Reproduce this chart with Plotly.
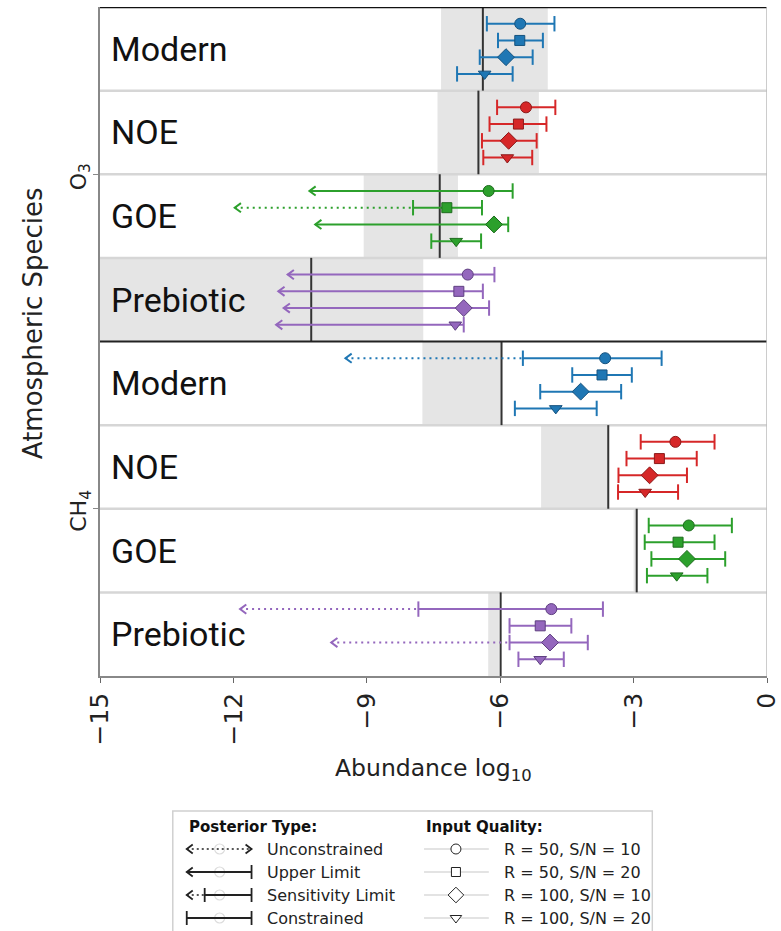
import plotly.graph_objects as go

# ---------------- data ----------------
species = ["O<sub>3</sub>", "CH<sub>4</sub>"]
scenarios = ["Modern", "NOE", "GOE", "Prebiotic"]
scenario_colors = ["#1f77b4", "#d62728", "#2ca02c", "#9467bd"]
scenario_edges = ["#15527e", "#8b1a1a", "#1d6b1d", "#5e3f80"]
qualities = ["R = 50, S/N = 10", "R = 50, S/N = 20", "R = 100, S/N = 10", "R = 100, S/N = 20"]
quality_symbols = ["circle", "square", "diamond", "triangle-down"]
quality_sizes = [11, 10, 13, 11]
posterior_types = ["Unconstrained", "Upper Limit", "Sensitivity Limit", "Constrained"]

# true abundances and shaded ranges (per scenario)
o3_truth = [-6.39, -6.49, -7.36, -10.25]
o3_band_lo = [-7.33, -7.41, -9.07, -15.0]
o3_band_hi = [-4.93, -5.13, -6.95, -7.73]
ch4_truth = [-5.97, -3.57, -2.93, -5.99]
ch4_band_lo = [-7.75, -5.08, -3.00, -6.27]
ch4_band_hi = [-5.97, -3.57, -2.93, -6.03]

# retrievals: rows = scenario, cols = input quality
# type: C = constrained, U = upper limit, S = sensitivity limit
o3_median = [[-5.55, -5.56, -5.87, -6.35],
             [-5.42, -5.59, -5.81, -5.84],
             [-6.26, -7.20, -6.14, -6.99],
             [-6.73, -6.93, -6.82, -7.01]]
o3_low = [[-6.30, -6.05, -6.46, -6.97],
          [-6.07, -6.24, -6.41, -6.38],
          [-10.29, -7.96, -10.16, -7.55],
          [-10.78, -10.99, -10.87, -11.04]]
o3_high = [[-4.78, -5.04, -5.27, -5.72],
           [-4.76, -4.96, -5.18, -5.28],
           [-5.72, -6.41, -5.82, -6.43],
           [-6.13, -6.39, -6.25, -6.82]]
o3_arrow = [[None, None, None, None],
            [None, None, None, None],
            [None, -11.97, None, None],
            [None, None, None, None]]
o3_type = [["C", "C", "C", "C"],
           ["C", "C", "C", "C"],
           ["U", "S", "U", "C"],
           ["U", "U", "U", "U"]]

ch4_median = [[-3.64, -3.71, -4.19, -4.75],
              [-2.06, -2.42, -2.64, -2.74],
              [-1.76, -2.00, -1.80, -2.03],
              [-4.85, -5.10, -4.88, -5.10]]
ch4_low = [[-5.49, -4.38, -5.10, -5.67],
           [-2.84, -3.16, -3.34, -3.35],
           [-2.66, -2.75, -2.60, -2.70],
           [-7.84, -5.79, -5.79, -5.59]]
ch4_high = [[-2.37, -3.04, -3.28, -3.83],
            [-1.18, -1.58, -1.80, -2.00],
            [-0.79, -1.18, -0.94, -1.34],
            [-3.69, -4.40, -4.03, -4.57]]
ch4_arrow = [[-9.48, None, None, None],
             [None, None, None, None],
             [None, None, None, None],
             [-11.85, None, -9.80, None]]
ch4_type = [["S", "C", "C", "C"],
            ["C", "C", "C", "C"],
            ["C", "C", "C", "C"],
            ["S", "C", "S", "C"]]

x_ticks = [-15, -12, -9, -6, -3, 0]
x_ticktext = ["\u221215", "\u221212", "\u22129", "\u22126", "\u22123", "0"]
species_ticks = [2, 6]

# ---------------- figure ----------------
W, H = 781, 931
FONT = "DejaVu Sans"
BAND = "rgb(229,229,229)"
ARROW_DX = 0.14   # chevron length in x units
ARROW_DY = 0.055  # chevron half height in y units
DOTDASH = "2px,4px"
PH = H - 7        # paper height in px


def py(pix):
    return (H - pix) / PH


def px(pix):
    return (pix - 100) / 669


fig = go.Figure()
shapes = []
annotations = []

datasets = [
    (o3_truth, o3_band_lo, o3_band_hi, o3_median, o3_low, o3_high, o3_arrow, o3_type),
    (ch4_truth, ch4_band_lo, ch4_band_hi, ch4_median, ch4_low, ch4_high, ch4_arrow, ch4_type),
]

# bands
for s, d in enumerate(datasets):
    truth, blo, bhi = d[0], d[1], d[2]
    for k in range(4):
        row = s * 4 + k
        shapes.append(dict(type="rect", xref="x", yref="y", x0=blo[k], x1=bhi[k],
                           y0=row, y1=row + 1, fillcolor=BAND, line=dict(width=0),
                           layer="below"))
# separators
for r in range(1, 8):
    if r == 4:
        continue
    shapes.append(dict(type="line", xref="x", yref="y", x0=-15, x1=0, y0=r, y1=r,
                       line=dict(color="#d6d6d6", width=2.5), layer="below"))
# truth lines
for s, d in enumerate(datasets):
    truth = d[0]
    for k in range(4):
        row = s * 4 + k
        shapes.append(dict(type="line", xref="x", yref="y", x0=truth[k], x1=truth[k],
                           y0=row, y1=row + 1, line=dict(color="#333333", width=2),
                           layer="below"))
# species separator, top and right spines
shapes.append(dict(type="line", xref="x", yref="y", x0=-15, x1=0, y0=4, y1=4,
                   line=dict(color="#222222", width=2), layer="above"))
shapes.append(dict(type="line", xref="x", yref="y", x0=-15, x1=0, y0=0, y1=0,
                   line=dict(color="#111111", width=2.5), layer="above"))
shapes.append(dict(type="line", xref="x", yref="y", x0=0, x1=0, y0=0, y1=8,
                   line=dict(color="#bbbbbb", width=1.5), layer="above"))

# error bars / arrows / markers
for s, d in enumerate(datasets):
    _, _, _, med, low, high, arrow, ptype = d
    for k in range(4):
        row = s * 4 + k
        col = scenario_colors[k]
        sx, sy, dx, dy, cx, cy, ax, ay = [], [], [], [], [], [], [], []
        for j in range(4):
            y = row + 0.2 * (j + 1)
            t = ptype[k][j]
            sx += [low[k][j], high[k][j], None]
            sy += [y, y, None]
            cx.append(high[k][j]); cy.append(y)
            if t == "C":
                cx.append(low[k][j]); cy.append(y)
            elif t == "U":
                tip = low[k][j]
                ax += [tip + ARROW_DX, tip, tip + ARROW_DX, None]
                ay += [y - ARROW_DY, y, y + ARROW_DY, None]
            elif t == "S":
                cx.append(low[k][j]); cy.append(y)
                tip = arrow[k][j]
                dx += [tip, low[k][j], None]
                dy += [y, y, None]
                ax += [tip + ARROW_DX, tip, tip + ARROW_DX, None]
                ay += [y - ARROW_DY, y, y + ARROW_DY, None]
        if dx:
            fig.add_trace(go.Scatter(x=dx, y=dy, mode="lines", hoverinfo="skip",
                                     line=dict(color=col, width=2, dash=DOTDASH)))
        fig.add_trace(go.Scatter(x=sx, y=sy, mode="lines", hoverinfo="skip",
                                 line=dict(color=col, width=2)))
        if ax:
            fig.add_trace(go.Scatter(x=ax, y=ay, mode="lines", hoverinfo="skip",
                                     line=dict(color=col, width=2)))
        fig.add_trace(go.Scatter(x=cx, y=cy, mode="markers", hoverinfo="skip",
                                 marker=dict(symbol="line-ns", size=11, color=col,
                                             line=dict(color=col, width=2))))
        fig.add_trace(go.Scatter(
            x=med[k], y=[row + 0.2 * (j + 1) for j in range(4)], mode="markers",
            marker=dict(symbol=quality_symbols, size=quality_sizes, color=col, opacity=1,
                        line=dict(color=scenario_edges[k], width=1))))

# scenario labels
for s in range(2):
    for k, name in enumerate(scenarios):
        annotations.append(dict(x=-14.8, y=s * 4 + k + 0.5, xref="x", yref="y",
                                text=name, showarrow=False, xanchor="left",
                                yanchor="middle",
                                font=dict(family="Roboto", size=34, color="#111111")))

# species labels beside the y ticks
for i, sp in enumerate(species):
    annotations.append(dict(x=-15, y=species_ticks[i] + 0.03, xref="x", yref="y",
                            text=sp, showarrow=False, textangle=-90, xanchor="right",
                            yanchor="middle", xshift=-3,
                            font=dict(family=FONT, size=22, color="#222222")))

# axis titles
annotations.append(dict(x=px(434), y=py(770), xref="paper", yref="paper",
                        text="Abundance log<sub>10</sub>", showarrow=False,
                        xanchor="center", yanchor="middle",
                        font=dict(family=FONT, size=23.5, color="#222222")))
annotations.append(dict(x=px(33), y=py(323), xref="paper", yref="paper",
                        text="Atmospheric Species", showarrow=False, textangle=-90,
                        xanchor="center", yanchor="middle",
                        font=dict(family=FONT, size=26, color="#222222")))

# ---------------- custom legend (pixel-unit helper axes) ----------------
LX0, LX1, LY0, LY1 = 172, 655, 810, 931
shapes.append(dict(type="rect", xref="x2", yref="y2", x0=173, x1=654, y0=811, y1=945,
                   line=dict(color="#d0d0d0", width=1.5), fillcolor="white", layer="below"))
annotations.append(dict(x=187, y=827, xref="x2", yref="y2", text="<b>Posterior Type:</b>",
                        showarrow=False, xanchor="left", yanchor="middle",
                        font=dict(family=FONT, size=15, color="#111111")))
annotations.append(dict(x=425, y=827, xref="x2", yref="y2", text="<b>Input Quality:</b>",
                        showarrow=False, xanchor="left", yanchor="middle",
                        font=dict(family=FONT, size=15, color="#111111")))
leg_rows = [849, 872, 895, 918]
gx0, gx1, gmid, gsplit = 187, 252, 220, 205
LC = "#222222"
for i, name in enumerate(posterior_types):
    y = leg_rows[i]
    annotations.append(dict(x=265, y=y, xref="x2", yref="y2", text=name, showarrow=False,
                            xanchor="left", yanchor="middle",
                            font=dict(family=FONT, size=16, color="#222222")))
    lx, ly, dxs, dys, chx, chy, capx, capy = [], [], [], [], [], [], [], []
    if name == "Unconstrained":
        dxs, dys = [gx0, gx1], [y, y]
        chx = [gx0 + 6, gx0, gx0 + 6, None, gx1 - 6, gx1, gx1 - 6]
        chy = [y - 4.5, y, y + 4.5, None, y - 4.5, y, y + 4.5]
    elif name == "Upper Limit":
        lx, ly = [gx0, gx1], [y, y]
        chx, chy = [gx0 + 6, gx0, gx0 + 6], [y - 4.5, y, y + 4.5]
        capx, capy = [gx1], [y]
    elif name == "Sensitivity Limit":
        dxs, dys = [gx0, gsplit], [y, y]
        lx, ly = [gsplit, gx1], [y, y]
        chx, chy = [gx0 + 6, gx0, gx0 + 6], [y - 4.5, y, y + 4.5]
        capx, capy = [gsplit, gx1], [y, y]
    else:
        lx, ly = [gx0, gx1], [y, y]
        capx, capy = [gx0, gx1], [y, y]
    fig.add_trace(go.Scatter(x=[gmid], y=[y], xaxis="x2", yaxis="y2", mode="markers",
                             marker=dict(symbol="circle-open", size=10, color="#dcdcdc",
                                         line=dict(color="#dcdcdc", width=1.2))))
    if dxs:
        fig.add_trace(go.Scatter(x=dxs, y=dys, xaxis="x2", yaxis="y2", mode="lines",
                                 line=dict(color=LC, width=1.5, dash="2px,3px")))
    if lx:
        fig.add_trace(go.Scatter(x=lx, y=ly, xaxis="x2", yaxis="y2", mode="lines",
                                 line=dict(color=LC, width=1.8)))
    if chx:
        fig.add_trace(go.Scatter(x=chx, y=chy, xaxis="x2", yaxis="y2", mode="lines",
                                 line=dict(color=LC, width=1.8)))
    if capx:
        fig.add_trace(go.Scatter(x=capx, y=capy, xaxis="x2", yaxis="y2", mode="markers",
                                 marker=dict(symbol="line-ns", size=10, color=LC,
                                             line=dict(color=LC, width=1.8))))

for i, name in enumerate(qualities):
    y = leg_rows[i]
    annotations.append(dict(x=503, y=y, xref="x2", yref="y2", text=name, showarrow=False,
                            xanchor="left", yanchor="middle",
                            font=dict(family=FONT, size=16, color="#222222")))
    fig.add_trace(go.Scatter(x=[425, 490], y=[y, y], xaxis="x2", yaxis="y2", mode="lines",
                             line=dict(color="#c8c8c8", width=1.2)))
    fig.add_trace(go.Scatter(x=[457], y=[y], xaxis="x2", yaxis="y2", mode="markers",
                             marker=dict(symbol=quality_symbols[i], size=quality_sizes[i] - 1,
                                         color="white", line=dict(color="#222222", width=1))))

fig.update_layout(
    width=W, height=H,
    margin=dict(l=100, r=12, t=7, b=0),
    paper_bgcolor="white", plot_bgcolor="white",
    showlegend=False,
    font=dict(family=FONT, color="#222222"),
    shapes=shapes, annotations=annotations,
    xaxis=dict(range=[-15, 0], domain=[0, 1], anchor="y", showgrid=False, zeroline=False,
               tickmode="array", tickvals=x_ticks, ticktext=x_ticktext, tickangle=-90,
               ticks="outside", ticklen=5, tickcolor="#666666", tickwidth=1.2,
               ticklabeloverflow="allow",
               tickfont=dict(family=FONT, size=25, color="#222222"),
               showline=True, linecolor="#888888", linewidth=1.5),
    yaxis=dict(range=[8, 0], domain=[py(676), 1], anchor="x", showgrid=False,
               zeroline=False, tickmode="array", tickvals=species_ticks,
               showticklabels=False, ticks="outside", ticklen=5, tickcolor="#888888",
               showline=True, linecolor="#888888", linewidth=1.5),
    xaxis2=dict(range=[LX0, LX1], domain=[px(LX0), px(LX1)],
                anchor="y2", visible=False, fixedrange=True),
    yaxis2=dict(range=[LY1, LY0], domain=[0, py(LY0)], anchor="x2",
                visible=False, fixedrange=True),
)

fig.write_html("out.html")
